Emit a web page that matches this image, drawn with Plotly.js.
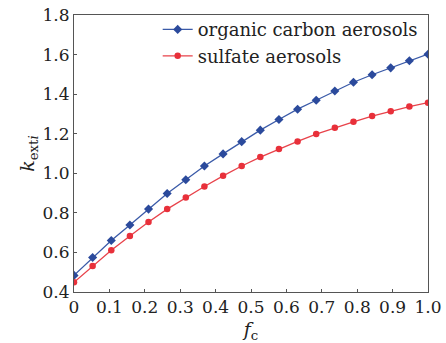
<!DOCTYPE html>
<html><head><meta charset="utf-8">
<script src="https://cdn.plot.ly/plotly-3.0.1.min.js"></script>
<style>html,body{margin:0;padding:0;background:#fff}</style>
</head><body><div id="chart" style="width:446px;height:343px"></div>
<script>
const fc = [0, 0.0526, 0.1053, 0.1579, 0.2105, 0.2632, 0.3158, 0.3684, 0.4211, 0.4737,
            0.5263, 0.5789, 0.6316, 0.6842, 0.7368, 0.7895, 0.8421, 0.8947, 0.9474, 1.0];
const organicCarbon = [0.484, 0.574, 0.660, 0.739, 0.819, 0.898, 0.967, 1.037, 1.098, 1.160,
                       1.218, 1.272, 1.324, 1.369, 1.416, 1.460, 1.498, 1.533, 1.569, 1.602];
const sulfate = [0.449, 0.532, 0.611, 0.683, 0.754, 0.819, 0.878, 0.933, 0.987, 1.037,
                 1.082, 1.123, 1.161, 1.198, 1.230, 1.260, 1.289, 1.314, 1.337, 1.357];
const xTicks = [0, 0.1, 0.2, 0.3, 0.4, 0.5, 0.6, 0.7, 0.8, 0.9, 1.0];
const xTickText = ['0', '0.1', '0.2', '0.3', '0.4', '0.5', '0.6', '0.7', '0.8', '0.9', '1.0'];
const yTicks = [0.4, 0.6, 0.8, 1.0, 1.2, 1.4, 1.6, 1.8];
const yTickText = ['0.4', '0.6', '0.8', '1.0', '1.2', '1.4', '1.6', '1.8'];

const font = 'DejaVu Serif';
const traces = [
  {x: fc, y: organicCarbon, name: 'organic carbon aerosols', mode: 'lines+markers',
   line: {color: '#3a5aa8', width: 1.3}, marker: {symbol: 'diamond', size: 7, color: '#2b4a9c'}},
  {x: fc, y: sulfate, name: 'sulfate aerosols', mode: 'lines+markers',
   line: {color: '#e8424a', width: 1.3}, marker: {symbol: 'circle', size: 6.5, color: '#e8303a'}}
];
const axisCommon = {showgrid: false, zeroline: false, showline: true, linecolor: '#555', linewidth: 1,
  mirror: true, ticks: 'inside', ticklen: 3, tickcolor: '#555',
  tickfont: {family: font, size: 17, color: '#222'}};
const layout = {
  width: 446, height: 343,
  margin: {l: 74, r: 18, t: 14, b: 51},
  paper_bgcolor: '#fff', plot_bgcolor: '#fff',
  showlegend: true,
  legend: {x: 0.985, y: 1.01, xanchor: 'right', yanchor: 'top', bgcolor: 'rgba(0,0,0,0)',
    font: {family: font, size: 18, color: '#222'}, tracegroupgap: 0},
  xaxis: Object.assign({}, axisCommon, {range: [0, 1], tickvals: xTicks, ticktext: xTickText,
    title: {text: '<i>f</i><sub>c</sub>', font: {family: font, size: 19, color: '#222'}, standoff: 6}}),
  yaxis: Object.assign({}, axisCommon, {range: [0.4, 1.8], tickvals: yTicks, ticktext: yTickText,
    title: {text: '<i>k</i><sub>ext<i>i</i></sub>', font: {family: font, size: 19, color: '#222'}, standoff: 2}})
};
Plotly.newPlot('chart', traces, layout, {displayModeBar: false, staticPlot: true});
</script></body></html>
